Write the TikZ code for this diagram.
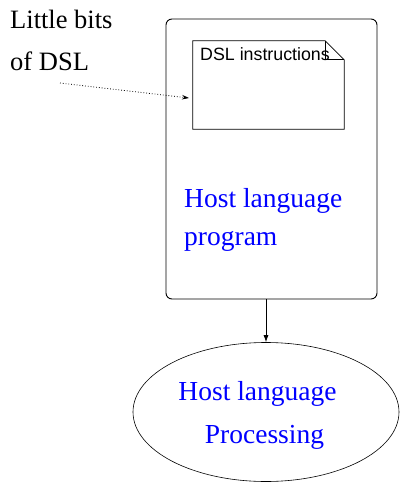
\documentclass[tikz,border=0pt]{standalone}
\usepackage{fontspec}
\setmainfont{Liberation Serif}
\newfontfamily\labelsans{Liberation Sans}
\usetikzlibrary{shapes.geometric,arrows.meta,calc}

\tikzset{
  outline/.style={draw=black, line width=0.9pt},
  serifbig/.style={font=\fontsize{26.5}{30}\selectfont, inner sep=0pt},
  bluetext/.style={font=\fontsize{27.5}{30}\selectfont, inner sep=0pt, text=blue},
  doctext/.style={font=\labelsans\fontsize{17.8}{20}\selectfont, inner sep=0pt},
}

\begin{document}
\begin{tikzpicture}[x=1pt, y=-1pt]
  \useasboundingbox (0,0) rectangle (401,483);

  % caption on the left
  \node[serifbig, anchor=base west] (bits) at (10,28) {Little bits};
  \node[serifbig, anchor=base west] (ofdsl) at (10,70) {of DSL};

  % host program box
  \node[outline, rounded corners=6pt, minimum width=211pt, minimum height=280pt,
        inner sep=0pt] (prog) at (271.5,159) {};

  % DSL instructions sheet with folded corner
  \node[minimum width=151pt, minimum height=88pt, inner sep=0pt] (doc) at (268.5,85) {};
  \draw[line width=0.8pt]
    (doc.north west) -- ($(doc.north east)+(-19,0)$) -- ($(doc.north east)+(0,19)$)
    -- (doc.south east) -- (doc.south west) -- cycle;
  \draw[line width=0.8pt]
    ($(doc.north east)+(-19,0)$) -- ($(doc.north east)+(-19,19)$) -- ($(doc.north east)+(0,19)$);
  \node[doctext, anchor=base west] (doclabel) at (200,60) {DSL instructions};

  \node[bluetext, anchor=base west] (host1) at (184,207) {Host language};
  \node[bluetext, anchor=base west] (host2) at (184,245) {program};

  % processing stage
  \node[draw=black, line width=0.6pt, ellipse, minimum width=266pt, minimum height=139pt,
        inner sep=0pt] (proc) at (266,412) {};
  \node[bluetext, anchor=base] (proc1) at (257.5,400) {Host language};
  \node[bluetext, anchor=base] (proc2) at (264.5,443) {Processing};

  % connectors
  \coordinate (from) at (60,83);
  \coordinate (into) at (189,98);
  \draw[dotted, line width=0.8pt, -{Stealth[length=7pt,width=4.5pt]}] (from) -- (into);
  \draw[line width=0.8pt, -{Latex[length=7pt,width=5pt]}] (prog.south -| proc.north) -- (proc.north);
\end{tikzpicture}
\end{document}
